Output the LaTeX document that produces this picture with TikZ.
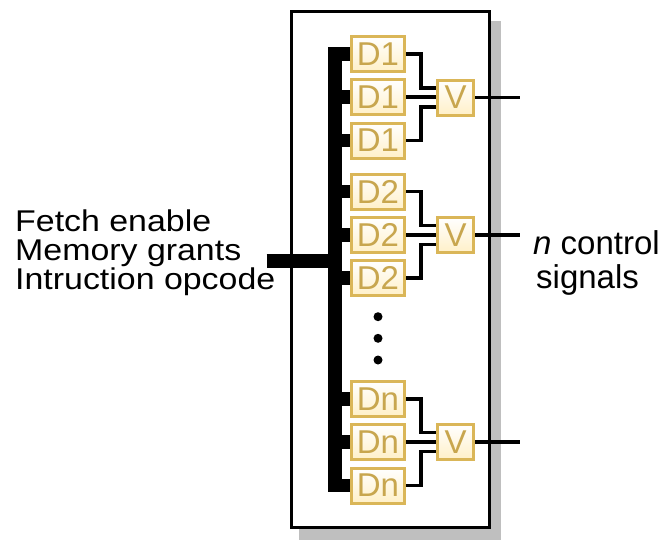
\documentclass[tikz,border=0pt]{standalone}
\usepackage{fontspec}
\setmainfont{Liberation Sans}
\newfontfamily\widefont{Liberation Sans}[FakeStretch=1.13]
\definecolor{gold}{RGB}{218,182,88}
\definecolor{goldtext}{RGB}{200,166,78}
\definecolor{cream}{RGB}{255,240,200}
\definecolor{shadowgray}{RGB}{191,191,191}
\begin{document}
\begin{tikzpicture}[x=1pt,y=-1pt,
  dbox/.style={draw=gold, line width=3pt, top color=white, bottom color=cream,
    minimum width=53pt, minimum height=35pt, inner sep=0pt, text=goldtext,
    font=\fontsize{33}{33}\selectfont},
  vbox/.style={dbox, minimum width=36pt},
  wire/.style={line width=3.5pt},
  bus/.style={line width=13.4pt},
  lbl/.style={font=\widefont\fontsize{30}{30}\selectfont, anchor=base west, inner sep=0pt},
  rlbl/.style={font=\fontsize{33}{33}\selectfont, anchor=base west, inner sep=0pt}]
\useasboundingbox (0,0) rectangle (668,541);
% outer box with shadow
\fill[shadowgray] (299,21) rectangle (501,540);
\draw[line width=3.3pt, fill=white] (291.5,11.5) rectangle (489.5,527.5);
% bus coordinates
\coordinate (bustop) at (335,47.3);
\coordinate (busbot) at (335,492.2);
\coordinate (in) at (266.7,261);
\draw[bus] (bustop) -- (busbot);
\draw[bus] (in) -- (in -| bustop);
% D boxes
\foreach \n/\y/\t in {11/54/D1,12/97/D1,13/140.5/D1,
                      21/191.7/D2,22/235/D2,23/278/D2,
                      31/399/Dn,32/442/Dn,33/485.5/Dn}{
  \node[dbox] (d\n) at (378,\y) {\t};
  \draw[bus] (d\n.west -| bustop) -- (d\n.west);
}
% V boxes
\node[vbox] (v1) at (455.5,97.5) {V};
\node[vbox] (v2) at (455.5,235) {V};
\node[vbox] (v3) at (455.5,442) {V};
\foreach \g in {1,2,3}{
  \draw[wire] (d\g1.east) -- ++(15,0) |- ([yshift=9.5pt]v\g.west);
  \draw[wire] (d\g2.east) -- (d\g2.east -| v\g.west);
  \draw[wire] (d\g3.east) -- ++(15,0) |- ([yshift=-9.5pt]v\g.west);
  \draw[wire] (v\g.east) -- ++(45,0);
}
% dots
\fill (378,316.7) circle (4.5);
\fill (378,338.3) circle (4.5);
\fill (378,360) circle (4.5);
% labels
\node[lbl] (t1) at (15,231) {Fetch enable};
\node[lbl] (t2) at (15,260) {Memory grants};
\node[lbl] (t3) at (15,289) {Intruction opcode};
\node[rlbl] (t4) at (533,254) {\textit{n} control};
\node[rlbl] (t5) at (536,288) {signals};
\end{tikzpicture}
\end{document}
